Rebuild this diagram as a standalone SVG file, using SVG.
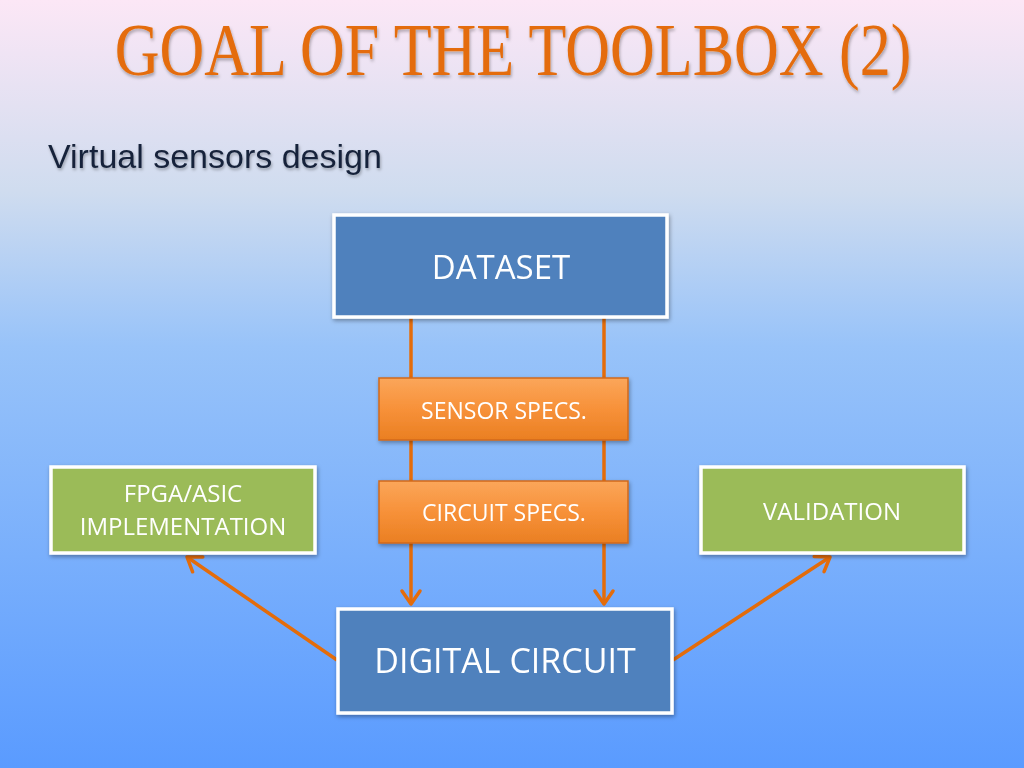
<svg xmlns="http://www.w3.org/2000/svg" width="1024" height="768" viewBox="0 0 1024 768">
<defs>
<linearGradient id="bg" x1="0" y1="0" x2="0" y2="1">
<stop offset="0" stop-color="#fce7f6"/>
<stop offset="0.25" stop-color="#cfdcef"/>
<stop offset="0.45" stop-color="#98c3f9"/>
<stop offset="1" stop-color="#5a9bff"/>
</linearGradient>
<linearGradient id="org" x1="0" y1="0" x2="0" y2="1">
<stop offset="0" stop-color="#fba65a"/>
<stop offset="0.5" stop-color="#f79139"/>
<stop offset="1" stop-color="#ea7f22"/>
</linearGradient>
<filter id="sh" x="-10%" y="-10%" width="120%" height="130%">
<feDropShadow dx="1" dy="2" stdDeviation="2" flood-color="#000" flood-opacity="0.35"/>
</filter>
<filter id="tsh" x="-10%" y="-40%" width="120%" height="180%">
<feDropShadow dx="1" dy="2" stdDeviation="1.5" flood-color="#000" flood-opacity="0.3"/>
</filter>
<marker id="ah2" markerWidth="24" markerHeight="24" viewBox="0 0 24 24" refX="21" refY="12" orient="auto" markerUnits="userSpaceOnUse">
<path d="M8,3 L21,12 L8,21" fill="none" stroke="#e46c0a" stroke-width="3.5" stroke-linecap="round" stroke-linejoin="round"/>
</marker>
</defs>
<style>
.blue{fill:#4f81bd;stroke:#fff;stroke-width:3.5}
.green{fill:#9bbb59;stroke:#fff;stroke-width:3.5}
.orange{fill:url(#org);stroke:#d2691a;stroke-width:1.5}
.lbl{font-family:"Open Sans","Liberation Sans",sans-serif;fill:#fff;text-anchor:middle}
.conn{stroke:#e46c0a;stroke-width:3.5;fill:none}
</style>
<rect x="0" y="0" width="1024" height="768" fill="url(#bg)"/>
<g id="title" transform="translate(513,75) scale(1,1.2)" filter="url(#tsh)">
<text x="0" y="0" font-family="Liberation Serif, serif" font-size="62" fill="#e46c0a" text-anchor="middle">GOAL OF THE TOOLBOX (2)</text>
</g>
<text x="48" y="168" font-family="Liberation Sans, sans-serif" font-size="34" fill="#17233a" filter="url(#tsh)">Virtual sensors design</text>
<g id="connectors">
<line class="conn" x1="411" y1="318" x2="411" y2="604" marker-end="url(#ah2)"/>
<line class="conn" x1="604" y1="318" x2="604" y2="604" marker-end="url(#ah2)"/>
<line class="conn" x1="337" y1="660" x2="187" y2="557" marker-end="url(#ah2)"/>
<line class="conn" x1="673" y1="660" x2="830" y2="557" marker-end="url(#ah2)"/>
</g>
<g id="dataset" filter="url(#sh)">
<rect class="blue" x="334" y="215" width="333" height="102"/>
<text class="lbl" x="501" y="279" font-size="33">DATASET</text>
</g>
<g id="sensor-specs" filter="url(#sh)">
<rect class="orange" x="379" y="378" width="249" height="62"/>
<text class="lbl" x="504" y="419" font-size="23">SENSOR SPECS.</text>
</g>
<g id="circuit-specs" filter="url(#sh)">
<rect class="orange" x="379" y="481" width="249" height="62"/>
<text class="lbl" x="504" y="521" font-size="23">CIRCUIT SPECS.</text>
</g>
<g id="fpga" filter="url(#sh)">
<rect class="green" x="51" y="467" width="264" height="86"/>
<text class="lbl" x="183" y="502" font-size="24">FPGA/ASIC</text>
<text class="lbl" x="183" y="535" font-size="24">IMPLEMENTATION</text>
</g>
<g id="validation" filter="url(#sh)">
<rect class="green" x="701" y="467" width="263" height="86"/>
<text class="lbl" x="832" y="520" font-size="24">VALIDATION</text>
</g>
<g id="digital-circuit" filter="url(#sh)">
<rect class="blue" x="338" y="609" width="334" height="104"/>
<text class="lbl" x="505" y="673" font-size="34">DIGITAL CIRCUIT</text>
</g>
</svg>
